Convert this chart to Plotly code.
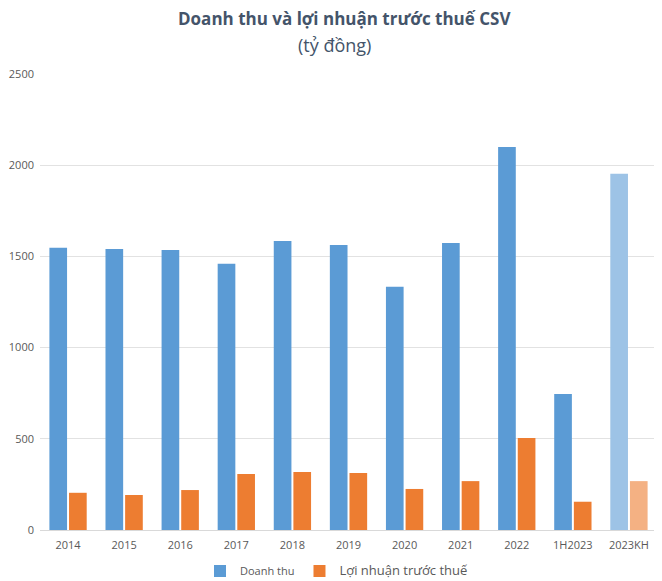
import plotly.graph_objects as go

categories = ["2014", "2015", "2016", "2017", "2018", "2019", "2020", "2021", "2022", "1H2023", "2023KH"]
doanh_thu = [1548, 1540, 1535, 1460, 1585, 1562, 1333, 1573, 2100, 745, 1953]
loi_nhuan = [204, 192, 219, 307, 318, 312, 225, 268, 504, 155, 268]
y_ticks = [0, 500, 1000, 1500, 2000, 2500]

blue = ["#5B9BD5"] * 10 + ["#9DC3E6"]
orange = ["#ED7D31"] * 10 + ["#F4B183"]

fig = go.Figure()
fig.add_trace(go.Bar(x=categories, y=doanh_thu, name="Doanh thu",
                     marker=dict(color=blue, line=dict(width=0))))
fig.add_trace(go.Bar(x=categories, y=loi_nhuan,
                     name="<span style='font-size:13px'>Lợi nhuận trước thuế</span>",
                     marker=dict(color=orange, line=dict(width=0))))

# The page body adds an 8px offset, so the figure is sized to fill the window.
W, H = 654, 573
L, R, T, B = 32, 5, 66, 51
PLOT_W = W - L - R
PLOT_H = H - T - B
OFF = 8


def px_x(x):
    return (x - OFF - L) / PLOT_W


def px_y(y):
    return 1 - (y - OFF - T) / PLOT_H


fig.update_layout(
    width=W, height=H,
    paper_bgcolor="white", plot_bgcolor="white",
    margin=dict(l=L, r=R, t=T, b=B, autoexpand=False),
    barmode="group", bargap=0.30, bargroupgap=0.10,
    font=dict(family="Open Sans, sans-serif", color="#595959", size=11),
    showlegend=True,
    legend=dict(orientation="h", x=px_x(337), xanchor="center", y=px_y(571), yanchor="middle",
                font=dict(size=11, color="#595959"), traceorder="normal",
                bgcolor="rgba(0,0,0,0)"),
    xaxis=dict(type="category", showgrid=False, showline=True, linecolor="#D9D9D9",
               ticks="", ticklabelstandoff=5, tickfont=dict(size=11, color="#595959"),
               automargin=False),
    yaxis=dict(range=[0, 2500], tickvals=y_ticks, showgrid=True, gridcolor="#E2E2E2",
               zeroline=False, showline=False, ticks="", ticklabelstandoff=5,
               tickfont=dict(size=11, color="#595959"), automargin=False),
    annotations=[
        dict(text="<b>Doanh thu và lợi nhuận trước thuế CSV</b>", xref="paper", yref="paper",
             x=px_x(344), y=px_y(18), xanchor="center", yanchor="middle",
             showarrow=False, font=dict(family="Open Sans, sans-serif", size=17, color="#44546A")),
        dict(text="(tỷ đồng)", xref="paper", yref="paper",
             x=px_x(334), y=px_y(45), xanchor="center", yanchor="middle",
             showarrow=False, font=dict(family="Open Sans, sans-serif", size=18, color="#44546A")),
    ],
)

fig.write_html("out.html")
